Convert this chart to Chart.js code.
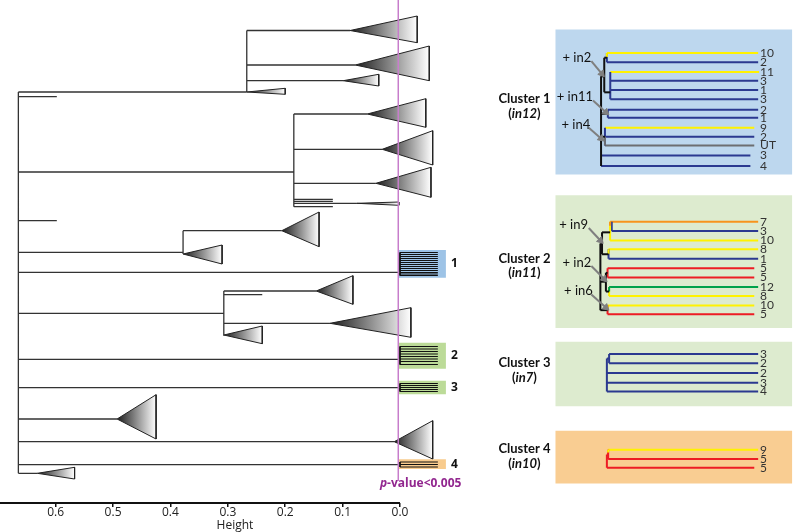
<!DOCTYPE html>
<html>
<head>
<meta charset="utf-8">
<script src="https://cdn.jsdelivr.net/npm/chart.js@4.4.1/dist/chart.umd.min.js"></script>
<style>
  html, body { margin: 0; padding: 0; background: #fff; }
  #wrap { position: relative; width: 800px; height: 532px; overflow: hidden; }
  #tree { position: absolute; left: 0; top: 0; }
  #clusters { position: absolute; left: 470px; top: 0; }
</style>
</head>
<body>
<div id="wrap">
  <canvas id="tree" width="470" height="532"></canvas>
  <canvas id="clusters" width="330" height="532"></canvas>
</div>
<script>
// ---------- left dendrogram (x = Height, y = leaf row) ----------
const heightTicks = [0.6, 0.5, 0.4, 0.3, 0.2, 0.1, 0.0];
const pCut = 0.003; // p-value<0.005 cut

// vertical joins: [height, first row, last row]
const treeJoins = [
  [0.665, 92, 473.3],
  [0.267, 30.5, 92],
  [0.185, 114, 206.7],
  [0.378, 230.7, 254],
  [0.307, 291, 335.7],
];
// horizontal branches: [from height, to height, row]
const treeBranches = [
  [0.665, 0.267, 92], [0.665, 0.598, 96.7],
  [0.267, 0.087, 30.5], [0.267, 0.078, 65], [0.267, 0.099, 80.7],
  [0.665, 0.185, 172],
  [0.185, 0.057, 114], [0.185, 0.031, 149.3], [0.185, 0.042, 183.3],
  [0.185, 0.117, 199.3], [0.185, 0.117, 201.3], [0.185, 0.075, 203.3], [0.185, 0.117, 206.7],
  [0.665, 0.598, 220.7],
  [0.665, 0.378, 252.3], [0.378, 0.206, 230.7],
  [0.665, 0.0, 272.3],
  [0.665, 0.307, 313.3], [0.307, 0.146, 291], [0.307, 0.240, 294.7], [0.307, 0.122, 323.3],
  [0.665, 0.0, 359.3],
  [0.665, 0.0, 387.7],
  [0.665, 0.493, 419],
  [0.665, 0.010, 441.7],
  [0.665, 0.0, 464.7],
  [0.665, 0.632, 473.3],
];
// collapsed subtrees: [apex height, base height, apex row, base top row, base bottom row]
const collapsed = [
  [0.087, -0.030, 30.5, 16, 42.7],
  [0.078, -0.051, 65, 46, 80.7],
  [0.099, 0.037, 80.7, 74.3, 86],
  [0.267, 0.200, 92, 88.3, 94.3],
  [0.057, -0.045, 114, 98.7, 127.3],
  [0.031, -0.057, 149.3, 130.7, 165],
  [0.042, -0.054, 183.3, 167.3, 197.3],
  [0.075, 0.002, 203.3, 202, 205.3],
  [0.206, 0.141, 230.7, 212, 246.7],
  [0.378, 0.310, 254, 245, 264],
  [0.146, 0.082, 291, 275.7, 304.3],
  [0.122, -0.019, 323.3, 307.7, 337.3],
  [0.307, 0.240, 335, 326, 343.7],
  [0.493, 0.425, 419, 394.7, 439],
  [0.010, -0.057, 441.7, 420.7, 459],
  [0.632, 0.567, 473.3, 467.3, 479],
];
// significant clusters
const sigLabels = ['1', '2', '3', '4'];
const sigTop = [250, 342.7, 380.7, 459.3];
const sigBottom = [277.7, 368.7, 394.3, 469];
const sigColors = ['#9DC3E6', '#BCDB98', '#BCDB98', '#F8CB8D'];
const sigLeafRows = [
  [252.5, 254.5, 256.5, 258.5, 260.5, 262.5, 264.5, 266.5, 268.5, 270.5, 272.5, 274, 275.5],
  [346.5, 349, 351.5, 354, 356.5, 359, 361.5, 364.5],
  [383.5, 385.5, 387.5, 389.5, 391.5],
  [462, 464.5, 467],
];

// ---------- right: cluster panels ----------
const panelTitles = ['Cluster 1', 'Cluster 2', 'Cluster 3', 'Cluster 4'];
const panelInserts = ['in12', 'in11', 'in7', 'in10'];
const panelTop = [25, 194, 343.3, 434];
const panelBottom = [172.7, 329.3, 409, 487.7];
const panelColors = ['#BDD7EE', '#DDEBCF', '#DDEBCF', '#F9CD92'];
const panelTitleRow = [96, 258.3, 365, 452.7];

const inColors = { B: '#2B3990', Y: '#FFF200', R: '#ED1C24', O: '#F7941D', Gn: '#00A14B', G: '#6D6E71', K: '#111111' };

// leaves: [label, row, colour, start, end]
const c1Leaves = [
  ['10', 49, 'Y', 606, 762], ['2', 58.3, 'B', 606, 762], ['11', 68.3, 'Y', 609.5, 763],
  ['3', 77.3, 'B', 609.5, 762], ['1', 86.7, 'B', 609.5, 762], ['3', 96, 'B', 609.5, 762],
  ['2', 106.7, 'B', 607, 762], ['1', 115, 'B', 607, 762], ['9', 125, 'Y', 604, 758],
  ['2', 134.3, 'B', 604, 758], ['UT', 143.3, 'G', 604, 758], ['3', 153.3, 'B', 600, 754],
  ['4', 164, 'B', 600, 754],
];
const c2Leaves = [
  ['7', 221, 'O', 609.3, 762], ['3', 230.3, 'B', 611, 762], ['10', 240, 'Y', 609.3, 762],
  ['8', 249, 'Y', 607.7, 762], ['1', 258.7, 'B', 607.7, 762], ['5', 268.3, 'R', 606.7, 758],
  ['5', 277.7, 'R', 606.7, 758], ['12', 287.3, 'Gn', 608.3, 762], ['8', 296.7, 'Y', 608.3, 758],
  ['10', 306.3, 'Y', 606.7, 758], ['5', 315.3, 'R', 606.7, 758],
];
const c3Leaves = [
  ['3', 355.7, 'B', 608.3, 762], ['2', 365, 'B', 608.3, 762], ['2', 375, 'B', 606, 762],
  ['3', 385, 'B', 606, 762], ['4', 394, 'B', 606, 762],
];
const c4Leaves = [
  ['9', 453.3, 'Y', 607.3, 762], ['5', 462.7, 'R', 607.3, 762], ['5', 471.7, 'R', 606, 758],
];
// vertical joins: [x, row1, row2, colour]
const miniJoins = [
  [606, 49, 58.3, 'B'], [606, 49, 53, 'Y'], [609.5, 68.3, 96, 'B'], [607, 106.7, 115, 'B'],
  [604, 125, 143.3, 'B'], [604, 134.3, 143.3, 'G'],
  [603.3, 53.7, 89, 'K'], [600, 72.7, 164, 'K'],
  [611, 221, 230.3, 'B'], [609.3, 221, 240, 'Y'], [609.3, 221, 225, 'O'],
  [607.7, 249, 258.7, 'B'], [607.7, 249, 253.8, 'Y'], [606.7, 268.3, 277.7, 'R'],
  [608.3, 287.3, 296.7, 'Y'], [608.3, 287.3, 292, 'Gn'], [606.7, 306.3, 315.3, 'R'], [606.7, 306.3, 310.8, 'Y'],
  [601, 231.7, 254, 'K'], [605, 273, 292, 'K'], [599.3, 243, 311, 'K'],
  [608.3, 355.7, 365, 'B'], [606, 360.3, 394, 'B'],
  [607.3, 453.3, 462.7, 'R'], [607.3, 453.3, 456, 'Y'], [606, 458, 471.7, 'R'],
];
// horizontal stubs: [x1, x2, row, colour]
const miniStubs = [
  [603.3, 606, 53.7, 'K'], [603.3, 609.5, 89, 'K'], [600, 603.3, 72.7, 'K'], [600, 607, 110.8, 'K'], [600, 604, 134.3, 'K'],
  [601, 609.3, 231.7, 'K'], [601, 607.7, 254, 'K'], [605, 606.7, 273, 'K'], [605, 608.3, 292, 'K'],
  [599.3, 601, 243, 'K'], [599.3, 605, 282, 'K'], [599.3, 606.7, 311, 'K'],
  [606, 608.3, 360.3, 'B'], [606, 607.3, 458, 'R'],
];
// insertion arrows: [text, text x, text row, from x, from row, to x, to row]
const arrows = [
  ['+ in2', 575, 54.3, 590, 57.3, 600.7, 70],
  ['+ in11', 573, 94, 591.7, 97.3, 605, 109.3],
  ['+ in4', 574, 121.7, 587.3, 125, 600, 136],
  ['+ in9', 571.7, 224.3, 587.3, 227.3, 599.3, 240],
  ['+ in2', 575, 262.7, 590, 266, 603.3, 279.3],
  ['+ in6', 576.7, 291, 590, 295, 605, 308.3],
];

// ---------- helpers ----------
function shade(c) {
  const chart = c.chart, d = c.dataset.data, xs = chart.scales.x;
  if (!xs || !chart.chartArea) return '#888';
  const x0 = xs.getPixelForValue(d[0].x), x1 = xs.getPixelForValue(d[1].x);
  const g = chart.ctx.createLinearGradient(x0, 0, x1, 0);
  g.addColorStop(0, '#1c1c1c');
  g.addColorStop(1, '#ffffff');
  return g;
}
function rect(x1, x2, y1, y2) {
  return [{x: x1, y: y1}, {x: x2, y: y1}, {x: x2, y: y2}, {x: x1, y: y2}, {x: x1, y: y1}];
}
const gap = {x: null, y: null};

const baseOptions = {
  responsive: false,
  animation: false,
  events: [],
  plugins: { legend: { display: false }, tooltip: { enabled: false } },
  elements: { point: { radius: 0 }, line: { tension: 0 } },
  layout: { padding: 0 },
  datasets: { line: { clip: false } },
};

// ---------- left chart ----------
const treeSegs = [];
treeJoins.forEach(([h, r1, r2]) => treeSegs.push({x: h, y: r1}, {x: h, y: r2}, gap));
treeBranches.forEach(([h1, h2, r]) => treeSegs.push({x: h1, y: r}, {x: h2, y: r}, gap));

const treeSets = [
  { data: [{x: pCut, y: 0}, {x: pCut, y: 481}], borderColor: '#C77DCB', borderWidth: 1.5, order: 0 },
  { data: [{x: 0.697, y: 503}, {x: 0, y: 503}], borderColor: '#111', borderWidth: 2, order: 0 },
  { data: treeSegs, borderColor: '#333', borderWidth: 1.3, order: 1 },
];
collapsed.forEach(([ha, hb, r, rt, rb]) => treeSets.push({
  data: [{x: ha, y: r}, {x: hb, y: rt}, {x: hb, y: rb}, {x: ha, y: r}],
  fill: 'shape', backgroundColor: shade, borderColor: '#222', borderWidth: 1, order: 2,
}));
sigLeafRows.forEach(rows => {
  const pts = [{x: 0, y: rows[0]}, {x: 0, y: rows[rows.length - 1]}, gap];
  rows.forEach(r => pts.push({x: 0, y: r}, {x: -0.066, y: r}, gap));
  treeSets.push({ data: pts, borderColor: '#111', borderWidth: 1, order: 3 });
});
sigLabels.forEach((_, i) => treeSets.push({
  data: rect(pCut, -0.080, sigTop[i], sigBottom[i]),
  fill: 'shape', backgroundColor: sigColors[i], borderColor: 'rgba(0,0,0,0)', borderWidth: 0, order: 4,
}));

const treeText = {
  id: 'treeText',
  afterDatasetsDraw(chart) {
    const {ctx, scales: {x, y}} = chart;
    ctx.save();
    ctx.textBaseline = 'middle';
    ctx.textAlign = 'left';
    ctx.fillStyle = '#111';
    ctx.font = 'bold 12px "Open Sans", sans-serif';
    sigLabels.forEach((t, i) => {
      ctx.fillText(t, x.getPixelForValue(-0.089), y.getPixelForValue((sigTop[i] + sigBottom[i]) / 2));
    });
    // p-value label
    ctx.fillStyle = '#92278F';
    const f1 = 'italic bold 12px "Open Sans", sans-serif', f2 = 'bold 12px "Open Sans", sans-serif';
    ctx.font = f1; const w1 = ctx.measureText('p').width;
    ctx.font = f2; const w2 = ctx.measureText('-value<0.005').width;
    const cx = x.getPixelForValue(-0.036), cy = y.getPixelForValue(484);
    const sx = cx - (w1 + w2) / 2;
    ctx.font = f1; ctx.fillText('p', sx, cy);
    ctx.font = f2; ctx.fillText('-value<0.005', sx + w1, cy);
    ctx.restore();
  }
};

new Chart(document.getElementById('tree'), {
  type: 'line',
  data: { datasets: treeSets },
  options: {
    ...baseOptions,
    scales: {
      x: {
        type: 'linear', reverse: true, min: -0.122, max: 0.697,
        afterBuildTicks: s => { s.ticks = heightTicks.map(v => ({value: v})); },
        border: { display: false },
        grid: { drawOnChartArea: false, drawTicks: true, tickLength: 4, color: '#111', lineWidth: 1.5 },
        ticks: {
          padding: 0, color: '#222', autoSkip: false, maxRotation: 0,
          font: { family: '"Open Sans", sans-serif', size: 12, lineHeight: 1 },
          callback: v => Number(v).toFixed(1),
        },
        title: {
          display: true, text: 'Height', color: '#222',
          font: { family: '"Open Sans", sans-serif', size: 12, lineHeight: 1 },
          padding: { top: 1, bottom: 0 },
        },
      },
      y: { type: 'linear', reverse: true, min: 0, max: 503, display: false },
    },
  },
  plugins: [treeText],
});

// ---------- right chart ----------
const miniSets = [];
let ord = 500;
function addSet(o) { o.order = ord--; miniSets.push(o); }

panelTitles.forEach((_, i) => addSet({
  data: rect(553, 797, panelTop[i], panelBottom[i]),
  fill: 'shape', backgroundColor: panelColors[i], borderColor: 'rgba(0,0,0,0)', borderWidth: 0,
}));
const allLeaves = [c1Leaves, c2Leaves, c3Leaves, c4Leaves];
Object.keys(inColors).forEach(k => {
  const pts = [];
  allLeaves.forEach(ls => ls.forEach(([, r, c, x1, x2]) => { if (c === k) pts.push({x: x1, y: r}, {x: x2, y: r}, gap); }));
  if (pts.length) addSet({ data: pts, borderColor: inColors[k], borderWidth: 2 });
});
miniJoins.forEach(([x0, r1, r2, c]) => addSet({
  data: [{x: x0, y: r1}, {x: x0, y: r2}], borderColor: inColors[c], borderWidth: 2,
}));
miniStubs.forEach(([x1, x2, r, c]) => addSet({
  data: [{x: x1, y: r}, {x: x2, y: r}], borderColor: inColors[c], borderWidth: 2,
}));
arrows.forEach(([, , , fx, fy, tx, ty]) => {
  const rot = Math.atan2(tx - fx, -(ty - fy)) * 180 / Math.PI;
  addSet({
    data: [{x: fx, y: fy}, {x: tx, y: ty}],
    borderColor: '#7F7F7F', borderWidth: 2,
    pointStyle: 'triangle', pointRotation: rot,
    pointRadius: c => (c.dataIndex === 1 ? 4 : 0),
    pointBackgroundColor: '#7F7F7F', pointBorderColor: '#7F7F7F', pointBorderWidth: 1,
  });
});

const miniText = {
  id: 'miniText',
  afterDatasetsDraw(chart) {
    const {ctx, scales: {x, y}} = chart;
    ctx.save();
    ctx.textBaseline = 'middle';
    // leaf labels
    ctx.textAlign = 'left';
    ctx.fillStyle = '#333';
    ctx.font = '12px Lato, "Open Sans", sans-serif';
    allLeaves.forEach(ls => ls.forEach(([t, r]) => ctx.fillText(t, x.getPixelForValue(764), y.getPixelForValue(r))));
    // insertion texts
    ctx.fillStyle = '#111';
    ctx.textAlign = 'center';
    ctx.font = '13px Lato, "Open Sans", sans-serif';
    arrows.forEach(([t, tx, ty]) => ctx.fillText(t, x.getPixelForValue(tx), y.getPixelForValue(ty)));
    // cluster titles
    panelTitles.forEach((t, i) => {
      const cx = x.getPixelForValue(521), cy = y.getPixelForValue(panelTitleRow[i]);
      ctx.textAlign = 'center';
      ctx.font = 'bold 13px Lato, "Open Sans", sans-serif';
      ctx.fillText(t, cx, cy);
      const fb = 'bold 13px Lato, "Open Sans", sans-serif', fi = 'italic bold 13px Lato, "Open Sans", sans-serif';
      ctx.font = fb; const wo = ctx.measureText('(').width, wc = ctx.measureText(')').width;
      ctx.font = fi; const wi = ctx.measureText(panelInserts[i]).width;
      let sx = cx - (wo + wi + wc) / 2;
      const ly = cy + 14.5;
      ctx.textAlign = 'left';
      ctx.font = fb; ctx.fillText('(', sx, ly); sx += wo;
      ctx.font = fi; ctx.fillText(panelInserts[i], sx, ly); sx += wi;
      ctx.font = fb; ctx.fillText(')', sx, ly);
    });
    ctx.restore();
  }
};

new Chart(document.getElementById('clusters'), {
  type: 'line',
  data: { datasets: miniSets },
  options: {
    ...baseOptions,
    scales: {
      x: { type: 'linear', min: 470, max: 800, display: false },
      y: { type: 'linear', reverse: true, min: 0, max: 532, display: false },
    },
  },
  plugins: [miniText],
});
</script>
</body>
</html>
